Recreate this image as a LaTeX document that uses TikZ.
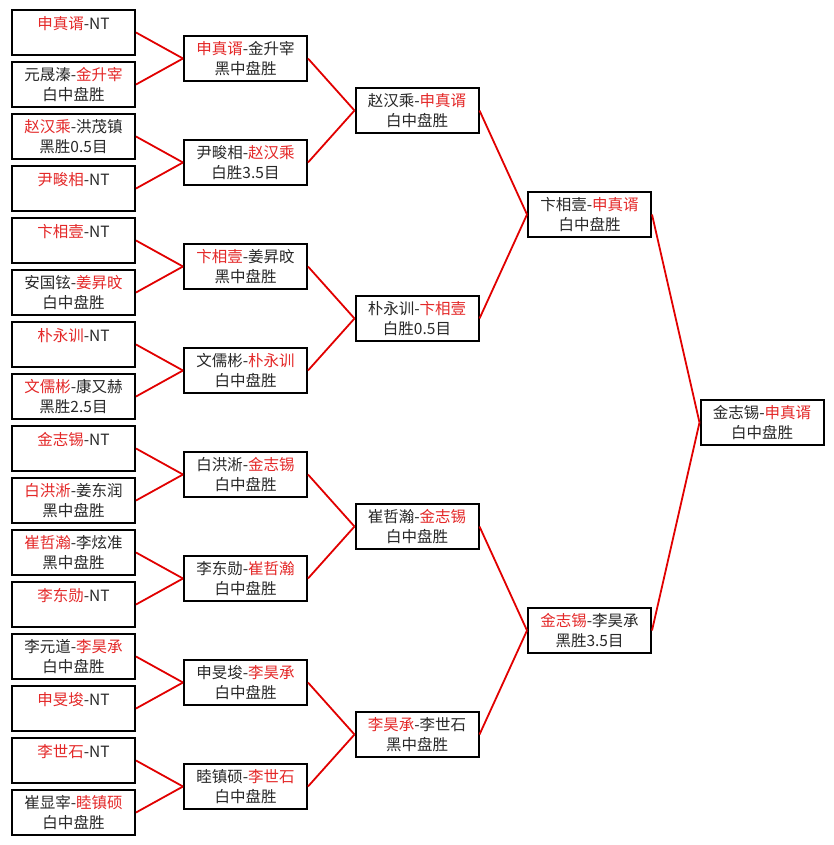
\documentclass[tikz,border=0pt]{standalone}
\usepackage{fontspec}
\newfontfamily\cjk{Noto Sans CJK SC}
\usepackage{tikz}
\definecolor{winred}{RGB}{228,40,40}
\definecolor{linkred}{RGB}{225,0,0}
\definecolor{txtgray}{RGB}{40,40,40}
\newcommand{\winner}[1]{\textcolor{winred}{#1}}

\begin{document}
\begin{tikzpicture}[x=1pt,y=-1pt,
	box/.style={draw=black, line width=2pt, fill=white, minimum width=123pt, minimum height=45pt,
		inner sep=0pt, align=center, text=txtgray, font=\cjk\fontsize{15.5}{20}\selectfont},
	link/.style={draw=linkred, line width=1.8pt}]
		\useasboundingbox[fill=white] (0,0) rectangle (833,845);
		
		% first round
		\node[box] (a1) at (73.5,32.5) {\winner{申真谞}-NT\\ \mbox{}};
		\node[box] (a2) at (73.5,84.5) {元晟溱-\winner{金升宰}\\白中盘胜};
		\node[box] (a3) at (73.5,136.5) {\winner{赵汉乘}-洪茂镇\\黑胜0.5目};
		\node[box] (a4) at (73.5,188.5) {\winner{尹畯相}-NT\\ \mbox{}};
		\node[box] (a5) at (73.5,240.5) {\winner{卞相壹}-NT\\ \mbox{}};
		\node[box] (a6) at (73.5,292.5) {安国铉-\winner{姜昇旼}\\白中盘胜};
		\node[box] (a7) at (73.5,344.5) {\winner{朴永训}-NT\\ \mbox{}};
		\node[box] (a8) at (73.5,396.5) {\winner{文儒彬}-康又赫\\黑胜2.5目};
		\node[box] (a9) at (73.5,448.5) {\winner{金志锡}-NT\\ \mbox{}};
		\node[box] (a10) at (73.5,500.5) {\winner{白洪淅}-姜东润\\黑中盘胜};
		\node[box] (a11) at (73.5,552.5) {\winner{崔哲瀚}-李炫准\\黑中盘胜};
		\node[box] (a12) at (73.5,604.5) {\winner{李东勋}-NT\\ \mbox{}};
		\node[box] (a13) at (73.5,656.5) {李元道-\winner{李昊承}\\白中盘胜};
		\node[box] (a14) at (73.5,708.5) {\winner{申旻埈}-NT\\ \mbox{}};
		\node[box] (a15) at (73.5,760.5) {\winner{李世石}-NT\\ \mbox{}};
		\node[box] (a16) at (73.5,812.5) {崔显宰-\winner{睦镇硕}\\白中盘胜};
		
		% second round
		\node[box] (b1) at (245.5,58.5) {\winner{申真谞}-金升宰\\黑中盘胜};
		\node[box] (b2) at (245.5,162.5) {尹畯相-\winner{赵汉乘}\\白胜3.5目};
		\node[box] (b3) at (245.5,266.5) {\winner{卞相壹}-姜昇旼\\黑中盘胜};
		\node[box] (b4) at (245.5,370.5) {文儒彬-\winner{朴永训}\\白中盘胜};
		\node[box] (b5) at (245.5,474.5) {白洪淅-\winner{金志锡}\\白中盘胜};
		\node[box] (b6) at (245.5,578.5) {李东勋-\winner{崔哲瀚}\\白中盘胜};
		\node[box] (b7) at (245.5,682.5) {申旻埈-\winner{李昊承}\\白中盘胜};
		\node[box] (b8) at (245.5,786.5) {睦镇硕-\winner{李世石}\\白中盘胜};
		
		% quarter finals
		\node[box] (c1) at (417,110.5) {赵汉乘-\winner{申真谞}\\白中盘胜};
		\node[box] (c2) at (417,318.5) {朴永训-\winner{卞相壹}\\白胜0.5目};
		\node[box] (c3) at (417,526.5) {崔哲瀚-\winner{金志锡}\\白中盘胜};
		\node[box] (c4) at (417,734.5) {\winner{李昊承}-李世石\\黑中盘胜};
		
		% semi finals
		\node[box] (d1) at (589.5,214.5) {卞相壹-\winner{申真谞}\\白中盘胜};
		\node[box] (d2) at (589.5,630.5) {\winner{金志锡}-李昊承\\黑胜3.5目};
		
		% final
		\node[box] (f) at (762,422.5) {金志锡-\winner{申真谞}\\白中盘胜};
		
		\foreach \c/\p in {a1/b1,a2/b1,a3/b2,a4/b2,a5/b3,a6/b3,a7/b4,a8/b4,
			a9/b5,a10/b5,a11/b6,a12/b6,a13/b7,a14/b7,a15/b8,a16/b8,
			b1/c1,b2/c1,b3/c2,b4/c2,b5/c3,b6/c3,b7/c4,b8/c4,
			c1/d1,c2/d1,c3/d2,c4/d2,d1/f,d2/f}
			\draw[link] (\c.east) -- (\p.west);
	\end{tikzpicture}
\end{document}
